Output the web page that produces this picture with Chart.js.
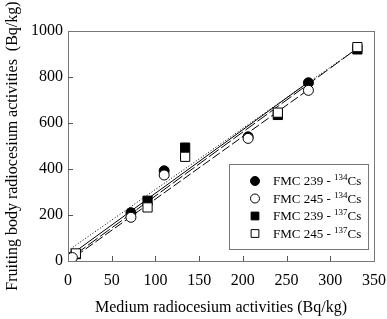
<!DOCTYPE html>
<html>
<head>
<meta charset="utf-8">
<script src="https://cdn.jsdelivr.net/npm/chart.js@4"></script>
<style>
  html, body { margin: 0; padding: 0; background: #fff; }
  #wrap { width: 387px; height: 319px; }
</style>
</head>
<body>
<div id="wrap"><canvas id="myChart" width="387" height="319"></canvas></div>
<script>
// data
const xTicks = [0, 50, 100, 150, 200, 250, 300, 350];
const yTicks = [0, 200, 400, 600, 800, 1000];

const fmc239Cs134 = [[5, 18], [72, 210], [110, 392], [206, 540], [275, 775]];
const fmc245Cs134 = [[5, 15], [72, 190], [110, 374], [206, 533], [275, 742]];
const fmc239Cs137 = [[9, 30], [91, 262], [134, 493], [240, 635], [331, 920]];
const fmc245Cs137 = [[9, 33], [91, 233], [134, 453], [240, 645], [331, 930]];

// regression lines (start, end)
const fit239Cs134 = [[5, 32], [275, 778]];
const fit245Cs134 = [[9, 22], [275, 745]];
const fit239Cs137 = [[9, 30], [331, 925]];
const fit245Cs137 = [[0, 45], [331, 925]];

const legendNames = ['FMC 239 - ', 'FMC 245 - ', 'FMC 239 - ', 'FMC 245 - '];
const legendIso = ['134', '134', '137', '137'];

const toPts = arr => arr.map(p => ({ x: p[0], y: p[1] }));
const FONT = '"Liberation Serif", "Times New Roman", serif';

function fitSet(pts, dash) {
  return {
    type: 'line', data: toPts(pts), borderColor: '#000', borderWidth: 1,
    borderDash: dash, pointRadius: 0, fill: false, order: 5
  };
}
function ptSet(pts, style, filled, r) {
  return {
    type: 'scatter', data: toPts(pts), pointStyle: style, pointRadius: r,
    pointBackgroundColor: filled ? '#000' : '#fff', pointBorderColor: '#000',
    pointBorderWidth: 1, order: filled ? 2 : 1
  };
}

const legendMarks = [
  { style: 'circle', filled: true, r: 4.5 },
  { style: 'circle', filled: false, r: 4.5 },
  { style: 'rect', filled: true, r: 5.5 },
  { style: 'rect', filled: false, r: 5.5 }
];

const framePlugin = {
  id: 'frame',
  afterDraw(chart) {
    const ctx = chart.ctx;
    const a = chart.chartArea;
    const xs = chart.scales.x, ys = chart.scales.y;
    ctx.save();
    ctx.strokeStyle = '#777';
    ctx.lineWidth = 1;
    ctx.strokeRect(a.left + 0.5, a.top + 0.5, a.right - a.left, a.bottom - a.top);
    ctx.strokeStyle = '#555';
    ctx.beginPath();
    xTicks.forEach(v => {
      if (v === 0 || v === 350) return;
      const px = Math.round(xs.getPixelForValue(v)) + 0.5;
      ctx.moveTo(px, a.bottom); ctx.lineTo(px, a.bottom - 5);
    });
    yTicks.forEach(v => {
      if (v === 0 || v === 1000) return;
      const py = Math.round(ys.getPixelForValue(v)) + 0.5;
      ctx.moveTo(a.left, py); ctx.lineTo(a.left + 5, py);
    });
    ctx.stroke();

    // legend box inside the plot
    const bx = a.right - 145, by = a.top + 133, bw = 139, bh = 85;
    ctx.fillStyle = '#fff';
    ctx.fillRect(bx, by, bw, bh);
    ctx.strokeStyle = '#777';
    ctx.strokeRect(bx + 0.5, by + 0.5, bw, bh);
    legendNames.forEach((name, i) => {
      const y = by + 17 + i * 17.5;
      const m = legendMarks[i];
      ctx.fillStyle = m.filled ? '#000' : '#fff';
      ctx.strokeStyle = '#000';
      ctx.lineWidth = 1;
      Chart.helpers.drawPoint(ctx, { pointStyle: m.style, radius: m.r, rotation: 0, borderWidth: 1 }, bx + 26, y);
      ctx.fillStyle = '#000';
      ctx.textBaseline = 'middle';
      ctx.textAlign = 'left';
      ctx.font = '13px ' + FONT;
      let tx = bx + 44;
      ctx.fillText(name, tx, y + 1);
      tx += ctx.measureText(name).width;
      ctx.font = '9px ' + FONT;
      ctx.fillText(legendIso[i], tx, y - 3);
      tx += ctx.measureText(legendIso[i]).width;
      ctx.font = '13px ' + FONT;
      ctx.fillText('Cs', tx, y + 1);
    });
    ctx.restore();
  }
};

const ctx = document.getElementById('myChart').getContext('2d');
const myChart = new Chart(ctx, {
  data: {
    datasets: [
      fitSet(fit239Cs134, []),
      fitSet(fit245Cs134, [9, 3]),
      fitSet(fit239Cs137, [12, 3]),
      fitSet(fit245Cs137, [1, 2]),
      ptSet(fmc239Cs134, 'circle', true, 5),
      ptSet(fmc239Cs137, 'rect', true, 6.5),
      ptSet(fmc245Cs134, 'circle', false, 5),
      ptSet(fmc245Cs137, 'rect', false, 6.5)
    ]
  },
  options: {
    responsive: false,
    animation: false,
    layout: { padding: { top: 31, right: 13, left: 0, bottom: 0 } },
    plugins: { legend: { display: false }, tooltip: { enabled: false } },
    scales: {
      x: {
        type: 'linear', min: 0, max: 350,
        afterBuildTicks: s => { s.ticks = xTicks.map(v => ({ value: v })); },
        afterFit: s => { s.height = 58; s.paddingLeft = 0; s.paddingRight = 0; },
        grid: { display: false, tickLength: 0 }, border: { display: false },
        ticks: { color: '#000', padding: 10, font: { family: FONT, size: 16 }, callback: v => String(v) },
        title: { display: true, text: 'Medium radiocesium activities (Bq/kg)', color: '#000',
                 padding: { top: 8, bottom: 2 }, font: { family: FONT, size: 16 } }
      },
      y: {
        type: 'linear', min: 0, max: 1000,
        afterBuildTicks: s => { s.ticks = yTicks.map(v => ({ value: v })); },
        afterFit: s => { s.width = 68; s.paddingTop = 0; s.paddingBottom = 0; },
        grid: { display: false, tickLength: 0 }, border: { display: false },
        ticks: { color: '#000', padding: 5, font: { family: FONT, size: 16 }, callback: v => String(v) },
        title: { display: true, text: 'Fruiting body radiocesium activities  (Bq/kg)', color: '#000',
                 padding: { top: 3, bottom: 0 }, font: { family: FONT, size: 16 } }
      }
    }
  },
  plugins: [framePlugin]
});
</script>
</body>
</html>
